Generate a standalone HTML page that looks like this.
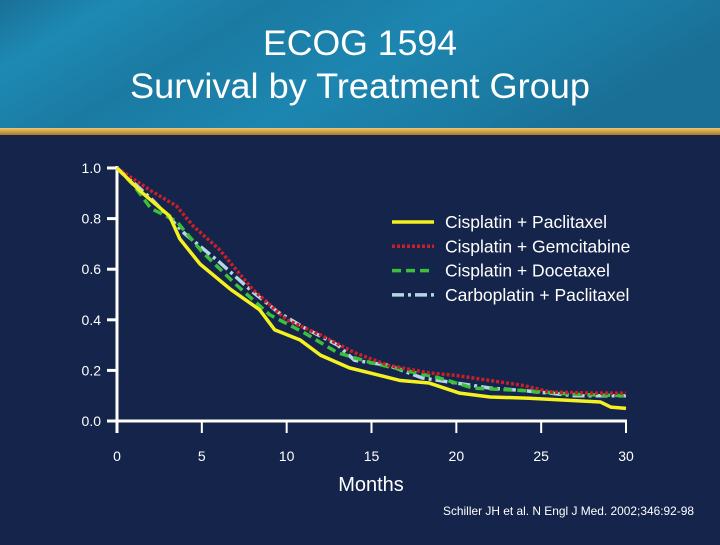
<!DOCTYPE html>
<html><head><meta charset="utf-8"><style>
body{margin:0;width:720px;height:540px;overflow:hidden;background:#14244a;font-family:"Liberation Sans",sans-serif}
</style></head><body>
<svg width="720" height="540">
<defs>
<linearGradient id="hdr" x1="0" y1="0" x2="1" y2="0.3">
<stop offset="0" stop-color="#1a6f96"/><stop offset="0.15" stop-color="#1d8ab4"/><stop offset="0.35" stop-color="#1b7aa2"/><stop offset="0.6" stop-color="#1c86b0"/><stop offset="0.85" stop-color="#1b7aa2"/><stop offset="1" stop-color="#1a6f96"/>
</linearGradient>
<linearGradient id="gold" x1="0" y1="0" x2="0" y2="1"><stop offset="0" stop-color="#f0c86a"/><stop offset="1" stop-color="#a47a2a"/></linearGradient>
</defs>
<rect x="0" y="0" width="720" height="129" fill="url(#hdr)"/>
<rect x="0" y="128" width="720" height="7" fill="url(#gold)"/>
<text x="360" y="55" fill="#fff" font-size="35" text-anchor="middle" textLength="194" lengthAdjust="spacingAndGlyphs">ECOG 1594</text>
<text x="360" y="98" fill="#fff" font-size="35" text-anchor="middle" textLength="460" lengthAdjust="spacingAndGlyphs">Survival by Treatment Group</text>
<g id="axes"></g>
<g id="series"></g>
<g id="legend"></g>
<text x="371" y="491" fill="#fff" font-size="20" text-anchor="middle">Months</text>
<text x="694" y="515" fill="#fff" font-size="12" text-anchor="end" textLength="251" lengthAdjust="spacingAndGlyphs">Schiller JH et al. N Engl J Med. 2002;346:92-98</text>
</svg>
<script>
const xTicks=[0,5,10,15,20,25,30];
const yTicks=[0,0.2,0.4,0.6,0.8,1.0];
const names=["Cisplatin + Paclitaxel","Cisplatin + Gemcitabine","Cisplatin + Docetaxel","Carboplatin + Paclitaxel"];
const monthsA=[0,1.35,3.1,3.7,4.9,6.7,8.4,9.3,10.8,12,13.7,15.5,16.7,18.4,20.2,22,24.3,28.5,29.1,30];
const valsA=[1,0.91,0.81,0.72,0.62,0.52,0.44,0.36,0.32,0.26,0.21,0.18,0.16,0.15,0.11,0.095,0.09,0.075,0.055,0.05];
const monthsB=[0,2,3.5,4.5,6,8,10,12,14,16,18.4,20,23,24,25.5,28,30];
const valsB=[1,0.91,0.85,0.77,0.68,0.52,0.40,0.34,0.27,0.22,0.19,0.18,0.15,0.14,0.115,0.11,0.11];
const monthsC=[0,1,2,3.5,5,7,9,11,13,15,17,19,21,24,27,30];
const valsC=[1,0.93,0.84,0.79,0.67,0.54,0.42,0.35,0.27,0.23,0.20,0.17,0.13,0.12,0.105,0.10];
const monthsD=[0,2,4,6,8,9.5,11,13,14,16,18,20,22,24,27,30];
const valsD=[1,0.88,0.74,0.63,0.51,0.43,0.37,0.30,0.24,0.22,0.17,0.15,0.13,0.12,0.10,0.10];
const NS="http://www.w3.org/2000/svg";
const X=m=>117+m*(509/30), Y=v=>421-v*253;
function mk(t,a,p){const e=document.createElementNS(NS,t);for(const k in a)e.setAttribute(k,a[k]);p.appendChild(e);return e;}
const ax=document.getElementById('axes');
let l=mk('line',{x1:117,y1:166,x2:117,y2:433,stroke:'#fff','stroke-width':3},ax);


l=mk('line',{x1:116,y1:421,x2:627,y2:421,stroke:'#fff','stroke-width':3},ax);


yTicks.forEach(v=>{
 let t=mk('line',{x1:107,y1:Y(v),x2:117,y2:Y(v),stroke:'#fff','stroke-width':3},ax);
 
 
 let tx=mk('text',{x:101,y:Y(v)+5,fill:'#fff','font-size':14,'text-anchor':'end'},ax);tx.textContent=v.toFixed(1);
 
 
});
xTicks.forEach(m=>{
 let t=mk('line',{x1:X(m),y1:421,x2:X(m),y2:433,stroke:'#fff','stroke-width':2},ax);
 
 
 let tx=mk('text',{x:X(m),y:461,fill:'#fff','font-size':14,'text-anchor':'middle'},ax);tx.textContent=m;
 
 
});
const styles=[{c:'#f5f020',d:'none'},{c:'#c8202a',d:'3 2'},{c:'#3cbf3a',d:'9 5'},{c:'#b6d6e8',d:'12 4 3 4'}];
const data=[[monthsA,valsA],[monthsB,valsB],[monthsC,valsC],[monthsD,valsD]];
const sg=document.getElementById('series'), lg=document.getElementById('legend');
[3,2,1,0].forEach(i=>{
 const [ms,vs]=data[i];
 const p=mk('polyline',{points:ms.map((m,j)=>X(m)+','+Y(vs[j])).join(' '),fill:'none',stroke:styles[i].c,'stroke-width':3.5,'stroke-dasharray':styles[i].d,'stroke-linejoin':'round'},sg);
 
 
});
names.forEach((n,i)=>{
 const y=222+i*24.3;
 const ln=mk('line',{x1:392,y1:y,x2:434,y2:y,stroke:styles[i].c,'stroke-width':3.5,'stroke-dasharray':styles[i].d},lg);
 
 
 const tx=mk('text',{x:445,y:y+6,fill:'#fff','font-size':17.5},lg);tx.textContent=n;
 
 
});
</script>
</body></html>
